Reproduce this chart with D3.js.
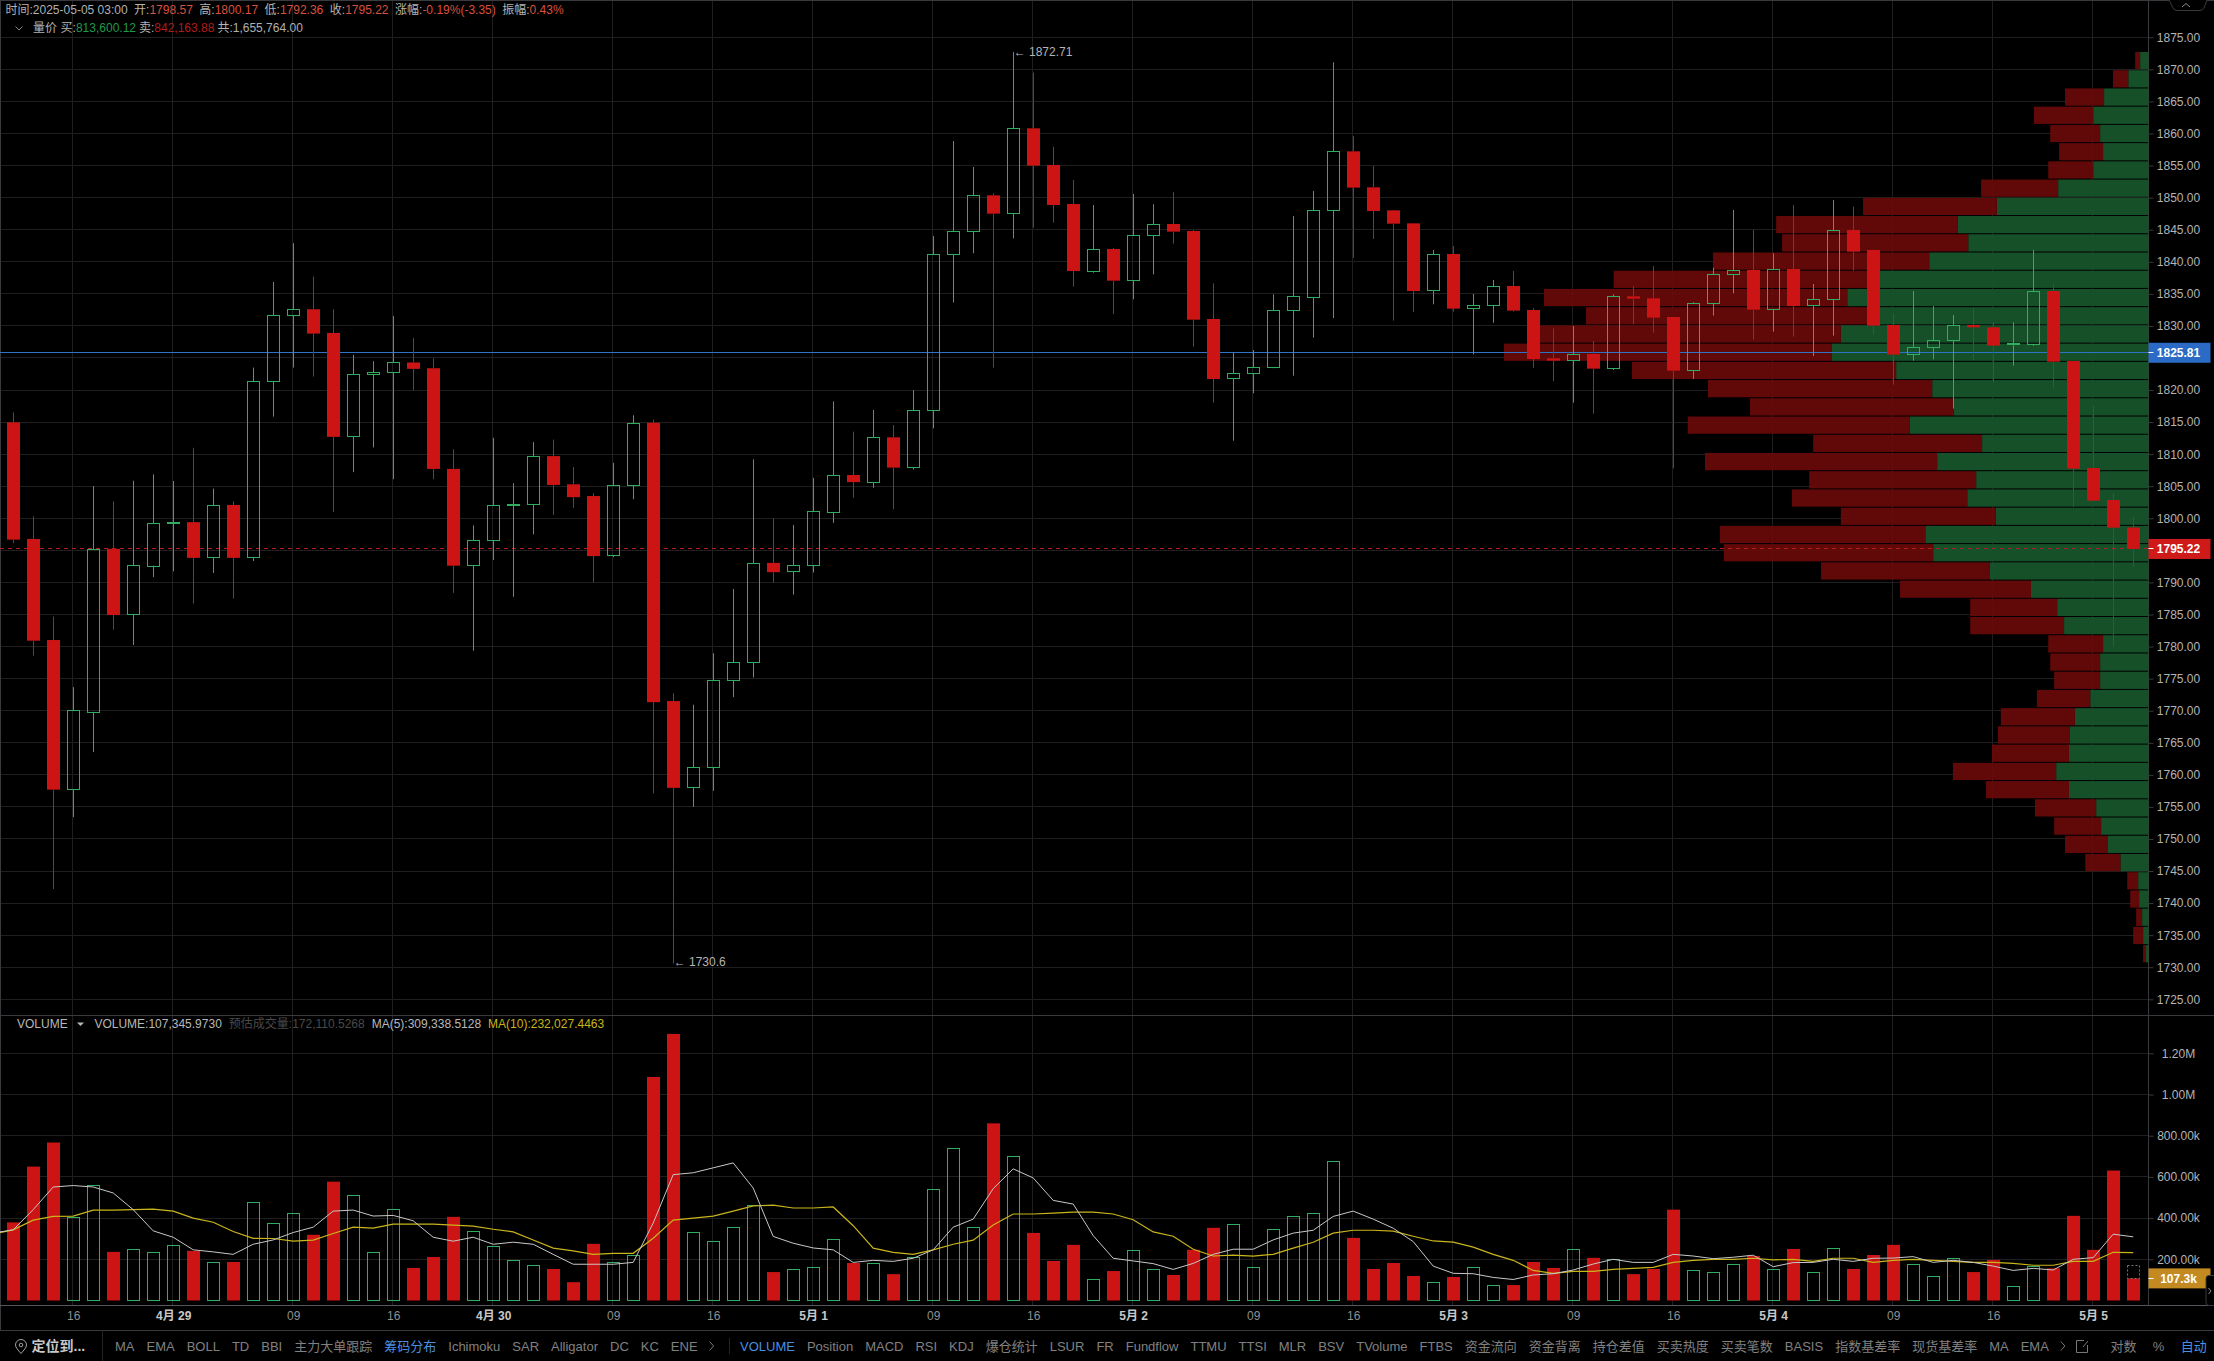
<!DOCTYPE html>
<html>
<head>
<meta charset="utf-8">
<title>ETH volume profile</title>
<script src="https://cdn.jsdelivr.net/npm/d3@7/dist/d3.min.js"></script>
<style>
    html, body { margin: 0; padding: 0; background: #000; }
    svg { display: block; }
    text { font-family: "Liberation Sans", "Noto Sans CJK SC", sans-serif; font-size: 12px; }
</style>
</head>
<body>
<svg id="chart" width="2214" height="1361"></svg>
<script>
const candleOpen = [1814.97,1796.78,1781.02,1757.74,1769.83,1795.23,1784.98,1792.61,1799.2,1799.4,1793.89,1802.08,1793.89,1821.4,1831.65,1832.6,1828.9,1812.71,1822.4,1822.7,1824.3,1823.4,1807.7,1792.61,1796.5,1802.0,1802.13,1809.7,1805.3,1803.47,1794.17,1805.14,1814.9,1771.5,1758.0,1761.14,1774.67,1777.5,1793.05,1791.66,1792.6,1801.0,1806.75,1805.6,1812.63,1807.94,1816.84,1841.16,1844.75,1850.36,1847.55,1860.81,1855.09,1849.0,1838.51,1841.99,1837.05,1844.07,1845.89,1844.8,1831.08,1821.77,1822.55,1823.54,1832.43,1834.45,1848.02,1857.22,1851.61,1848.02,1845.99,1835.54,1841.21,1832.74,1833.21,1836.22,1832.48,1824.94,1824.63,1825.62,1823.33,1834.61,1834.3,1831.39,1823.07,1833.52,1838.04,1838.72,1832.58,1838.87,1833.16,1834.14,1844.95,1841.84,1830.14,1825.57,1826.66,1827.75,1830.14,1829.78,1827.0,1827.13,1835.44,1824.52,1807.84,1802.85,1798.57];
const candleHigh = [1816.53,1800.29,1784.7,1773.67,1805.03,1802.63,1805.86,1806.86,1805.81,1810.99,1804.64,1802.63,1823.5,1836.85,1842.9,1837.7,1832.6,1825.5,1824.5,1831.55,1828.1,1824.95,1810.76,1798.9,1812.55,1805.47,1811.88,1812.27,1807.98,1803.91,1808.65,1816.06,1815.4,1772.73,1770.94,1778.96,1788.99,1809.2,1799.96,1798.96,1806.3,1818.24,1813.51,1816.89,1814.55,1820.0,1844.02,1858.83,1854.78,1850.67,1872.71,1869.49,1857.95,1852.75,1848.85,1842.15,1850.57,1848.96,1850.88,1844.95,1836.64,1825.83,1826.24,1834.92,1847.14,1851.04,1871.1,1859.61,1854.93,1848.1,1846.0,1841.84,1842.46,1834.98,1837.16,1838.56,1832.74,1829.62,1829.98,1827.65,1834.92,1836.22,1839.34,1831.4,1833.68,1839.08,1848.07,1844.95,1841.32,1848.85,1836.53,1849.63,1848.59,1841.9,1831.96,1835.44,1833.1,1831.7,1832.79,1830.61,1830.56,1841.84,1836.53,1824.5,1817.62,1803.9,1800.17];
const candleLow = [1796.1,1778.57,1742.2,1753.4,1763.54,1782.64,1780.24,1790.83,1791.72,1786.7,1791.49,1787.48,1793.33,1815.85,1823.5,1822.1,1801.0,1807.2,1811.04,1806.09,1820.0,1806.09,1788.37,1779.35,1793.5,1787.76,1797.51,1800.52,1801.63,1790.05,1793.94,1802.97,1757.13,1730.6,1755.0,1757.52,1772.11,1775.18,1790.0,1788.1,1791.55,1799.29,1803.2,1804.75,1801.4,1807.6,1814.03,1833.63,1841.32,1823.49,1843.65,1845.32,1846.1,1836.12,1838.3,1831.86,1834.14,1838.04,1842.82,1826.76,1818.03,1812.1,1819.49,1823.4,1822.24,1828.17,1831.23,1840.59,1843.55,1830.82,1832.17,1833.37,1832.22,1825.57,1830.5,1832.22,1823.44,1821.36,1818.03,1816.32,1823.13,1830.25,1828.95,1807.79,1821.72,1831.6,1835.08,1827.85,1829.1,1828.32,1825.31,1828.48,1838.61,1828.69,1820.84,1824.58,1824.79,1817.1,1824.68,1821.15,1823.8,1826.87,1820.21,1801.8,1802.6,1780.0,1792.36];
const candleClose = [1796.67,1780.91,1757.69,1770.05,1795.17,1784.92,1792.66,1799.24,1799.4,1793.83,1802.02,1793.83,1821.4,1831.65,1832.6,1828.8,1812.7,1822.45,1822.75,1824.3,1823.3,1807.7,1792.61,1796.56,1802.02,1802.2,1809.65,1805.2,1803.3,1794.11,1805.14,1814.83,1771.33,1757.97,1761.14,1774.73,1777.5,1793.0,1791.6,1792.66,1801.07,1806.7,1805.64,1812.66,1807.9,1816.84,1841.16,1844.75,1850.36,1847.5,1860.81,1854.99,1848.85,1838.56,1841.94,1837.05,1844.12,1845.84,1844.7,1830.97,1821.72,1822.6,1823.54,1832.43,1834.61,1848.02,1857.22,1851.56,1847.92,1845.94,1835.44,1841.16,1832.69,1833.21,1836.17,1832.38,1824.84,1824.58,1825.57,1823.33,1834.61,1834.25,1831.29,1823.02,1833.52,1838.04,1838.67,1832.53,1838.82,1833.1,1834.14,1844.9,1841.58,1830.04,1825.52,1826.66,1827.75,1830.09,1829.78,1826.92,1827.18,1835.39,1824.42,1807.74,1802.75,1798.54,1795.22];

const volumes = [379,650,767,405,556,236,249,234,268,241,185,187,478,376,424,319,577,512,234,444,158,211,406,337,263,195,171,153,89,275,185,220,1085,1294,332,288,356,459,138,151,161,298,182,180,128,210,537,737,356,860,698,328,192,270,102,143,244,151,124,246,353,371,161,346,410,424,673,304,153,182,119,88,114,161,73,75,187,158,249,207,200,128,153,441,146,137,176,216,151,250,137,254,153,221,270,176,117,205,138,197,68,167,156,411,246,631,107.3];
const volumeMa5 = [343,441,551,558,551,522,441,338,307,246,236,224,273,294,330,356,434,439,410,413,387,307,288,307,273,283,273,224,176,176,176,185,376,611,620,644,668,546,311,278,255,246,185,195,190,205,246,356,395,543,639,595,486,468,315,205,192,179,151,180,224,249,249,294,327,341,408,434,395,351,286,167,132,130,112,102,124,130,148,177,200,185,185,224,216,203,210,220,164,184,185,200,190,205,206,213,185,195,185,167,146,156,148,200,208,322,309];
const volumeMa10 = [343,390,408,410,439,439,441,444,434,400,380,335,302,301,288,293,325,356,351,371,371,371,366,361,346,333,294,254,241,224,229,229,302,390,400,410,434,459,463,449,449,454,363,254,234,224,246,273,293,367,420,420,424,429,429,420,392,333,312,249,216,220,215,224,254,283,327,341,341,337,312,289,283,259,224,195,146,132,141,141,151,156,161,185,195,200,200,205,197,200,190,205,205,185,195,200,195,190,185,185,180,171,171,190,190,234,232];
// the averages run in from the candle just left of the chart
const ma5Before = 328;
const ma10Before = 322;
const estimatedVolume = 172.11;

const profileBuy = [1127,2718,5967,7426,6497,6100,7426,12133,20354,25592,24200,29437,36134,40443,36797,41305,42498,33879,29039,26122,32023,22343,28376,23139,24332,20487,29968,28907,21282,15779,12266,11337,6100,6497,6497,7823,9879,10542,10674,12398,10674,7028,6365,5437,3779,1392,1260,862,729,332];
const profileSell = [663,2055,5238,7956,6696,5901,6033,10343,17967,24398,24995,29039,35669,40708,38719,41902,44023,35471,30100,27382,29835,22675,31161,22409,23537,20818,27581,28111,22675,17570,11669,12597,7359,6696,6166,7160,9945,9680,10343,13857,11138,8221,6299,5768,4707,1459,1193,796,1326,398];

const priceTicks = d3.range(1725, 1876, 5);
const hiddenPriceLabels = [1795, 1825];
const volumeTicks = [200, 400, 600, 800, 1000, 1200];
const timeTickIndex = [3,8,14,19,24,30,35,40,46,51,56,62,67,72,78,83,88,94,99,104];
const timeTickLabels = ["16","4月 29","09","16","4月 30","09","16","5月 1","09","16","5月 2","09","16","5月 3","09","16","5月 4","09","16","5月 5"];

const toolbarLeft = ["MA","EMA","BOLL","TD","BBI","主力大单跟踪","筹码分布","Ichimoku","SAR","Alligator","DC","KC","ENE"];
const toolbarRight = ["VOLUME","Position","MACD","RSI","KDJ","爆仓统计","LSUR","FR","Fundflow","TTMU","TTSI","MLR","BSV","TVolume","FTBS","资金流向","资金背离","持仓差值","买卖热度","买卖笔数","BASIS","指数基差率","现货基差率","MA","EMA"];
const activeTools = ["筹码分布", "VOLUME"];

const headerRow = [
    ["时间:", "2025-05-05 03:00", "#b0b0b0"],
    ["开:", "1798.57", "#d9503f"],
    ["高:", "1800.17", "#d9503f"],
    ["低:", "1792.36", "#d9503f"],
    ["收:", "1795.22", "#d9503f"],
    ["涨幅:", "-0.19%(-3.35)", "#d9503f"],
    ["振幅:", "0.43%", "#d9503f"]
];
const profileRow = [
    ["买:", "813,600.12", "#1f9a4c"],
    ["卖:", "842,163.88", "#b01c1c"],
    ["共:", "1,655,764.00", "#b0b0b0"]
];
const volumeLegend = [
    ["VOLUME:107,345.9730", "#b8b8b8"],
    ["预估成交量:172,110.5268", "#4a4a4a"],
    ["MA(5):309,338.5128", "#b8b8b8"],
    ["MA(10):232,027.4463", "#c9b51a"]
];

const red = "#cc1414";
const green = "#2fae60";
const gridColor = "#1f1f1f";
const axisColor = "#3a3a3e";
const textColor = "#b4b4b4";

const axisX = 2148.5;
const mainTop = 0;
const mainBottom = 1015.5;
const volumeBottom = 1305.5;
const panelBottom = 1330.5;

const svg = d3.select("#chart");

const xScale = d3.scaleLinear().domain([0, 106]).range([13.2, 2133.2]);
const yPrice = d3.scaleLinear().domain([1725, 1875]).range([999.3, 37.3]);
const yVolume = d3.scaleLinear().domain([0, 1200]).range([1300.5, 1053.3]);
const xProfile = d3.scaleLinear().domain([0, 86521]).range([axisX, 1504]);

function crisp(v) {
    return Math.round(v - 0.5) + 0.5;
}

drawFrame();
drawProfile();
drawPriceLines();
drawCandles();
drawVolume();
drawAxes();
drawPriceTags();
drawHeader();
drawToolbar();

function drawFrame() {
    svg.append("rect").attr("width", 2214).attr("height", 1361).attr("fill", "#000");

    const grid = svg.append("g").attr("class", "grid");
    grid.selectAll("line.v")
        .data(timeTickIndex)
        .join("line")
        .attr("x1", function (d) { return crisp(xScale(d) - 0.4); })
        .attr("x2", function (d) { return crisp(xScale(d) - 0.4); })
        .attr("y1", mainTop)
        .attr("y2", volumeBottom)
        .attr("stroke", gridColor);
    grid.selectAll("line.h")
        .data(priceTicks)
        .join("line")
        .attr("x1", 0)
        .attr("x2", axisX)
        .attr("y1", function (d) { return crisp(yPrice(d)); })
        .attr("y2", function (d) { return crisp(yPrice(d)); })
        .attr("stroke", gridColor);
    grid.selectAll("line.vh")
        .data(volumeTicks)
        .join("line")
        .attr("x1", 0)
        .attr("x2", axisX)
        .attr("y1", function (d) { return crisp(yVolume(d)); })
        .attr("y2", function (d) { return crisp(yVolume(d)); })
        .attr("stroke", gridColor);

    const frameLines = [
        [0, 0.5, 2214, 0.5, axisColor],
        [0.5, 0, 0.5, 1330, axisColor],
        [0, mainBottom, 2214, mainBottom, axisColor],
        [0, volumeBottom, 2214, volumeBottom, "#55555c"],
        [0, panelBottom, 2214, panelBottom, axisColor],
        [axisX, 0, axisX, volumeBottom, axisColor],
        [102.5, panelBottom, 102.5, 1361, "#222"],
        [729.5, 1338, 729.5, 1354, "#222"]
    ];
    svg.append("g").selectAll("line")
        .data(frameLines)
        .join("line")
        .attr("x1", function (d) { return d[0]; })
        .attr("y1", function (d) { return d[1]; })
        .attr("x2", function (d) { return d[2]; })
        .attr("y2", function (d) { return d[3]; })
        .attr("stroke", function (d) { return d[4]; });
}

function drawProfile() {
    const binTop = 1872.71;
    const binStep = 2.842;
    const rows = profileBuy.map(function (buy, i) {
        return { buy: buy, sell: profileSell[i], top: binTop - binStep * i };
    });
    const rowHeight = yPrice(binTop - binStep) - yPrice(binTop) - 1;
    const g = svg.append("g").attr("class", "profile").attr("opacity", 0.94);

    g.selectAll("rect.buy")
        .data(rows)
        .join("rect")
        .attr("x", function (d) { return xProfile(d.buy); })
        .attr("y", function (d) { return yPrice(d.top); })
        .attr("width", function (d) { return axisX - xProfile(d.buy); })
        .attr("height", rowHeight)
        .attr("fill", "#17552c");
    g.selectAll("rect.sell")
        .data(rows)
        .join("rect")
        .attr("x", function (d) { return xProfile(d.buy + d.sell); })
        .attr("y", function (d) { return yPrice(d.top); })
        .attr("width", function (d) { return xProfile(d.buy) - xProfile(d.buy + d.sell); })
        .attr("height", rowHeight)
        .attr("fill", "#680a09");
}

function drawPriceLines() {
    const lastClose = candleClose[candleClose.length - 1];
    svg.append("line")
        .attr("x1", 0)
        .attr("x2", axisX)
        .attr("y1", crisp(yPrice(1825.81)))
        .attr("y2", crisp(yPrice(1825.81)))
        .attr("stroke", "#2f72c6");
    svg.append("line")
        .attr("x1", 0)
        .attr("x2", axisX)
        .attr("y1", crisp(yPrice(lastClose)))
        .attr("y2", crisp(yPrice(lastClose)))
        .attr("stroke", "#b81c1c")
        .attr("stroke-dasharray", "4,4");
}

function drawCandles() {
    const candles = candleOpen.map(function (open, i) {
        return { i: i, open: open, high: candleHigh[i], low: candleLow[i], close: candleClose[i], up: candleClose[i] >= open };
    });
    const g = svg.append("g").attr("class", "candles");

    // hollow candles: wick stops at the body so the profile shows through
    g.selectAll("line.upper")
        .data(candles)
        .join("line")
        .attr("x1", function (d) { return crisp(xScale(d.i)); })
        .attr("x2", function (d) { return crisp(xScale(d.i)); })
        .attr("y1", function (d) { return yPrice(d.high); })
        .attr("y2", function (d) { return yPrice(Math.max(d.open, d.close)); })
        .attr("stroke", function (d) { return d.up ? green : red; });
    g.selectAll("line.lower")
        .data(candles)
        .join("line")
        .attr("x1", function (d) { return crisp(xScale(d.i)); })
        .attr("x2", function (d) { return crisp(xScale(d.i)); })
        .attr("y1", function (d) { return yPrice(Math.min(d.open, d.close)); })
        .attr("y2", function (d) { return yPrice(d.low); })
        .attr("stroke", function (d) { return d.up ? green : red; });

    g.selectAll("rect.body")
        .data(candles)
        .join("rect")
        .attr("x", function (d) { return crisp(xScale(d.i)) - (d.up ? 6 : 6.5); })
        .attr("y", function (d) {
            const top = yPrice(Math.max(d.open, d.close));
            return d.up ? crisp(top) : top;
        })
        .attr("width", function (d) { return d.up ? 12 : 13; })
        .attr("height", function (d) {
            const h = Math.abs(yPrice(d.open) - yPrice(d.close));
            return d.up ? Math.max(1, Math.round(h)) : Math.max(1.5, h);
        })
        .attr("fill", function (d) { return d.up ? "none" : red; })
        .attr("stroke", function (d) { return d.up ? green : "none"; });

    const highIndex = d3.maxIndex(candleHigh);
    const lowIndex = d3.minIndex(candleLow);
    g.append("text")
        .attr("x", xScale(highIndex) + 0.5)
        .attr("y", yPrice(candleHigh[highIndex]) - 0.5)
        .attr("dy", "0.35em")
        .attr("fill", textColor)
        .text("← " + candleHigh[highIndex]);
    g.append("text")
        .attr("x", xScale(lowIndex) + 0.5)
        .attr("y", yPrice(candleLow[lowIndex]) - 1.5)
        .attr("dy", "0.35em")
        .attr("fill", textColor)
        .text("← " + candleLow[lowIndex]);
}

function drawVolume() {
    const g = svg.append("g").attr("class", "volume");

    function isUp(i) {
        return candleClose[i] >= candleOpen[i];
    }

    g.selectAll("rect")
        .data(volumes)
        .join("rect")
        .attr("x", function (d, i) { return crisp(xScale(i)) - (isUp(i) ? 6 : 6.5); })
        .attr("y", function (d, i) { return isUp(i) ? crisp(yVolume(d)) : yVolume(d); })
        .attr("width", function (d, i) { return isUp(i) ? 12 : 13; })
        .attr("height", function (d, i) {
            return (isUp(i) ? crisp(yVolume(0)) - crisp(yVolume(d)) : yVolume(0) - yVolume(d));
        })
        .attr("fill", function (d, i) { return isUp(i) ? "none" : red; })
        .attr("stroke", function (d, i) { return isUp(i) ? green : "none"; });

    // estimated volume of the open candle
    g.append("rect")
        .attr("x", crisp(xScale(106)) - 6)
        .attr("y", crisp(yVolume(estimatedVolume)))
        .attr("width", 12)
        .attr("height", Math.round(yVolume(volumes[106]) - yVolume(estimatedVolume)))
        .attr("fill", "none")
        .attr("stroke", "#777")
        .attr("stroke-dasharray", "2,2");

    const maLine = d3.line()
        .x(function (d, i) { return xScale(i - 1); })
        .y(function (d) { return yVolume(d); });
    g.append("path")
        .datum([ma10Before].concat(volumeMa10))
        .attr("d", maLine)
        .attr("fill", "none")
        .attr("stroke", "#c9b51a")
        .attr("stroke-width", 1.2);
    g.append("path")
        .datum([ma5Before].concat(volumeMa5))
        .attr("d", maLine)
        .attr("fill", "none")
        .attr("stroke", "#c8c8c8")
        .attr("stroke-width", 1);

    let legendX = 94.4;
    g.append("text").attr("x", 17).attr("y", 1028).attr("fill", "#b8b8b8").text("VOLUME");
    g.append("path").attr("d", "M77,1022.5h7l-3.5,3.5z").attr("fill", "#b8b8b8");
    volumeLegend.forEach(function (item) {
        const t = g.append("text")
            .attr("x", legendX)
            .attr("y", 1028)
            .attr("fill", item[1])
            .text(item[0]);
        legendX += t.node().getComputedTextLength() + 7;
    });
}

function drawAxes() {
    const priceAxis = d3.axisRight(yPrice)
        .tickValues(priceTicks)
        .tickSize(5)
        .tickPadding(0)
        .tickFormat(function (d) { return hiddenPriceLabels.indexOf(d) >= 0 ? "" : d.toFixed(2); });
    const volumeAxis = d3.axisRight(yVolume)
        .tickValues(volumeTicks)
        .tickSize(5)
        .tickPadding(0)
        .tickFormat(function (d) { return d >= 1000 ? (d / 1000).toFixed(2) + "M" : d.toFixed(2) + "k"; });
    const timeAxis = d3.axisBottom(xScale)
        .tickValues(timeTickIndex)
        .tickSize(0)
        .tickPadding(0)
        .tickFormat(function (d, i) { return timeTickLabels[i]; });

    [priceAxis, volumeAxis].forEach(function (axis) {
        const g = svg.append("g")
            .attr("transform", `translate(${axisX}, 0)`)
            .call(axis);
        g.select(".domain").remove();
        g.selectAll(".tick line").attr("stroke", axisColor);
        g.selectAll(".tick text")
            .attr("x", 30)
            .attr("text-anchor", "middle")
            .attr("fill", textColor)
            .style("font-size", "12px");
    });

    const bottom = svg.append("g")
        .attr("transform", `translate(0, ${volumeBottom + 5.5})`)
        .call(timeAxis);
    bottom.select(".domain").remove();
    bottom.selectAll(".tick text")
        .attr("fill", function (d, i) { return timeTickLabels[i].length > 2 ? "#c8c8c8" : "#8e8e8e"; })
        .style("font-weight", function (d, i) { return timeTickLabels[i].length > 2 ? "bold" : "normal"; })
        .style("font-size", "12px");
}

function drawPriceTags() {
    const tags = [
        { y: yPrice(1825.81), text: "1825.81", fill: "#2b6bc6" },
        { y: yPrice(candleClose[106]), text: "1795.22", fill: "#cf1a1a" },
        { y: yVolume(volumes[106]), text: "107.3k", fill: "#c48a22" }
    ];
    const g = svg.append("g").attr("class", "tags");
    g.selectAll("rect")
        .data(tags)
        .join("rect")
        .attr("x", axisX)
        .attr("y", function (d) { return d.y - 10; })
        .attr("width", 62)
        .attr("height", 20)
        .attr("fill", function (d) { return d.fill; });
    g.selectAll("line")
        .data(tags)
        .join("line")
        .attr("x1", axisX)
        .attr("x2", axisX + 5)
        .attr("y1", function (d) { return crisp(d.y); })
        .attr("y2", function (d) { return crisp(d.y); })
        .attr("stroke", "#fff");
    g.selectAll("text")
        .data(tags)
        .join("text")
        .attr("x", axisX + 30)
        .attr("y", function (d) { return d.y; })
        .attr("dy", "0.35em")
        .attr("text-anchor", "middle")
        .attr("fill", "#fff")
        .style("font-weight", "bold")
        .text(function (d) { return d.text; });

    // collapse handle at the top and expand handle at the right edge
    svg.append("path")
        .attr("d", "M2169,0l4,8q1,2.5,4,2.5h23q3,0,4,-2.5l3,-8")
        .attr("fill", "#000")
        .attr("stroke", "#3a3a3e");
    svg.append("path")
        .attr("d", "M2182,7l4,-3.5l4,3.5")
        .attr("fill", "none")
        .attr("stroke", "#888");
    svg.append("path")
        .attr("d", "M2214,1275.5h-5q-3,0,-3,3v24q0,3,3,3h5")
        .attr("fill", "#000")
        .attr("stroke", "#3a3a3e");
    svg.append("path")
        .attr("d", "M2208.5,1288l2.5,3l-2.5,3")
        .attr("fill", "none")
        .attr("stroke", "#888");
}

function drawFlow(g, row, startX, y, gap) {
    let x = startX;
    row.forEach(function (item) {
        const t = g.append("text").attr("x", x).attr("y", y).attr("fill", textColor);
        t.append("tspan").text(item[0]);
        t.append("tspan").attr("fill", item[2]).text(item[1]);
        x += t.node().getComputedTextLength() + gap;
    });
}

function drawHeader() {
    const g = svg.append("g").attr("class", "header");
    drawFlow(g, headerRow, 5.5, 14, 6.5);
    g.append("path").attr("d", "M15.5,26.5l3.5,3.5l3.5,-3.5").attr("fill", "none").attr("stroke", "#888");
    g.append("text").attr("x", 33).attr("y", 32).attr("fill", textColor).text("量价");
    drawFlow(g, profileRow, 60.6, 32, 3);
}

function drawToolbar() {
    const g = svg.append("g").attr("class", "toolbar");
    const toolY = 1350.5;

    function flow(labels, startX) {
        let x = startX;
        labels.forEach(function (label) {
            const t = g.append("text")
                .attr("x", x)
                .attr("y", toolY)
                .attr("fill", activeTools.indexOf(label) >= 0 ? "#4a8fe0" : "#808080")
                .style("font-size", "13px")
                .text(label);
            x += t.node().getComputedTextLength() + 12;
        });
        return x;
    }

    g.append("text")
        .attr("x", 31.5)
        .attr("y", toolY + 0.5)
        .attr("fill", "#c8c8c8")
        .style("font-size", "14px")
        .style("font-weight", "bold")
        .text("定位到...");
    g.append("path")
        .attr("d", "M21,1353.5c-3,-3.5,-5.5,-6,-5.5,-8.5a5.5,5.5,0,0,1,11,0c0,2.5,-2.5,5,-5.5,8.5z")
        .attr("fill", "none")
        .attr("stroke", "#a0a0a0");
    g.append("circle").attr("cx", 21).attr("cy", 1345).attr("r", 1.8).attr("fill", "none").attr("stroke", "#a0a0a0");

    const leftEnd = flow(toolbarLeft, 115);
    g.append("path").attr("d", `M${leftEnd},1341.5l4,4.5l-4,4.5`).attr("fill", "none").attr("stroke", "#777");

    const rightEnd = flow(toolbarRight, 740);
    g.append("path").attr("d", `M${rightEnd},1341.5l4,4.5l-4,4.5`).attr("fill", "none").attr("stroke", "#777");
    g.append("path")
        .attr("d", "M2084,1340.5h-7.5v12h11v-7.5M2083,1347l5,-6")
        .attr("fill", "none")
        .attr("stroke", "#777");

    [["对数", 2110.6, "#808080"], ["%", 2152.8, "#808080"], ["自动", 2180.8, "#4a8fe0"]].forEach(function (item) {
        g.append("text")
            .attr("x", item[1])
            .attr("y", toolY)
            .attr("fill", item[2])
            .style("font-size", "13px")
            .text(item[0]);
    });
}
</script>
</body>
</html>
